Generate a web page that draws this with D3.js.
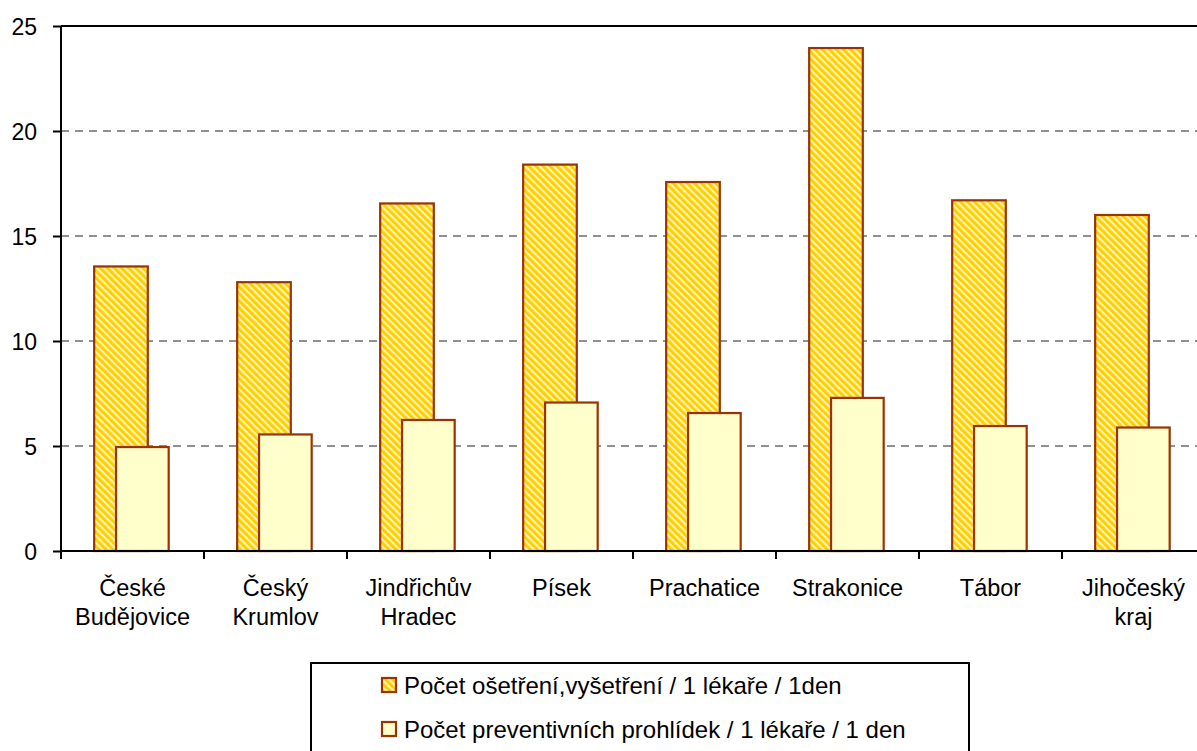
<!DOCTYPE html>
<html><head><meta charset="utf-8">
<script src="https://cdn.jsdelivr.net/npm/d3@7/dist/d3.min.js"></script>
<style>body{margin:0;background:#fff;}svg{display:block;}svg text{font-family:"Liberation Sans",Arial,sans-serif;}</style>
</head><body>
<svg id="c" width="1197" height="751"></svg>
<script>
const categories = [["České","Budějovice"],["Český","Krumlov"],["Jindřichův","Hradec"],["Písek"],["Prachatice"],["Strakonice"],["Tábor"],["Jihočeský","kraj"]];
const osetreni = [13.55, 12.8, 16.55, 18.4, 17.57, 23.95, 16.7, 16.0];
const prohlidky = [4.95, 5.55, 6.24, 7.07, 6.57, 7.29, 5.95, 5.88];
const yTicks = [0, 5, 10, 15, 20, 25];
const seriesNames = ["Počet ošetření,vyšetření / 1 lékaře / 1den", "Počet preventivních prohlídek / 1 lékaře / 1 den"];

(function(){
const svg = d3.select("#c");
const mLeft = 61, mTop = 26, mBottom = 551, band = 143;
const keys = categories.map(c => c.join(" "));
const x = d3.scaleBand().domain(keys).range([mLeft, mLeft + band * keys.length]).padding(0);
const y = d3.scaleLinear().domain([0, 25]).range([mBottom, mTop]);

const defs = svg.append("defs");
const pat = defs.append("pattern").attr("id", "hatch").attr("patternUnits", "userSpaceOnUse")
  .attr("width", 5).attr("height", 5).attr("patternTransform", "rotate(45)");
pat.append("rect").attr("width", 5).attr("height", 5).attr("fill", "#FFCC00");
pat.append("rect").attr("width", 5).attr("height", 2.2).attr("fill", "#FFF4A8");
const pat2 = defs.append("pattern").attr("id", "hatchS").attr("patternUnits", "userSpaceOnUse")
  .attr("width", 5).attr("height", 5).attr("patternTransform", "rotate(45)");
pat2.append("rect").attr("width", 5).attr("height", 5).attr("fill", "#FFCC00");
pat2.append("rect").attr("width", 5).attr("height", 2.2).attr("fill", "#FFF4A8");

// gridlines
svg.append("g").selectAll("line").data(yTicks.filter(t => t > 0 && t < 25)).join("line")
  .attr("x1", mLeft).attr("x2", 1197).attr("y1", d => y(d)).attr("y2", d => y(d))
  .attr("stroke", "#222").attr("stroke-width", 1).attr("stroke-dasharray", "8,6");
// top border
svg.append("line").attr("x1", mLeft).attr("x2", 1197).attr("y1", y(25)).attr("y2", y(25))
  .attr("stroke", "#000").attr("stroke-width", 2);

const bw = band * 0.375;
const off1 = band * 0.232, off2 = band * 0.385;
// series 1
svg.append("g").selectAll("rect").data(osetreni).join("rect")
  .attr("x", (d, i) => x(keys[i]) + off1).attr("width", bw)
  .attr("y", d => y(d)).attr("height", d => mBottom - y(d))
  .attr("fill", "url(#hatch)").attr("stroke", "#993300").attr("stroke-width", 2.2);
// series 2
svg.append("g").selectAll("rect").data(prohlidky).join("rect")
  .attr("x", (d, i) => x(keys[i]) + off2).attr("width", bw - 1)
  .attr("y", d => y(d)).attr("height", d => mBottom - y(d))
  .attr("fill", "#FFFFCC").attr("stroke", "#993300").attr("stroke-width", 2.2);

// y axis
const yAxis = d3.axisLeft(y).tickValues(yTicks).tickSize(8).tickPadding(16);
const ya = svg.append("g").attr("transform", `translate(${mLeft},0)`).call(yAxis);
ya.attr("font-family", null).attr("font-size", null);
ya.select(".domain").attr("stroke", "#000").attr("stroke-width", 2).attr("d", `M0,${mTop}V${mBottom}`);
ya.selectAll(".tick line").attr("stroke", "#000").attr("stroke-width", 2);
ya.selectAll(".tick text").attr("font-size", 23).attr("fill", "#000").attr("dy", "0.35em");

// x axis
svg.append("line").attr("x1", mLeft).attr("x2", 1197).attr("y1", mBottom).attr("y2", mBottom)
  .attr("stroke", "#000").attr("stroke-width", 2);
svg.append("g").selectAll("line").data(keys).join("line")
  .attr("x1", d => x(d)).attr("x2", d => x(d)).attr("y1", mBottom).attr("y2", mBottom + 8)
  .attr("stroke", "#000").attr("stroke-width", 2);
const lab = svg.append("g").selectAll("text").data(categories).join("text")
  .attr("x", (d, i) => x(keys[i]) + band / 2).attr("y", 596)
  .attr("text-anchor", "middle").attr("font-size", 23.5).attr("fill", "#000");
lab.each(function(d) {
  const t0 = d3.select(this);
  d.forEach((t, j) => t0.append("tspan").attr("x", t0.attr("x")).attr("dy", j === 0 ? 0 : 29).text(t));
});

// legend
svg.append("rect").attr("x", 311).attr("y", 663).attr("width", 658).attr("height", 110)
  .attr("fill", "#fff").attr("stroke", "#000").attr("stroke-width", 2);
const lg = svg.append("g").selectAll("g").data(seriesNames).join("g")
  .attr("transform", (d, i) => `translate(382,${685 + i * 44})`);
lg.append("rect").attr("y", -7).attr("width", 14).attr("height", 14)
  .attr("fill", (d, i) => i === 0 ? "url(#hatchS)" : "#FFFFCC").attr("stroke", "#993300").attr("stroke-width", 2.2);
lg.append("text").attr("x", 22).attr("y", 0).attr("dy", "0.36em").attr("font-size", 24).attr("fill", "#000").text(d => d);
})();
</script>
</body></html>
